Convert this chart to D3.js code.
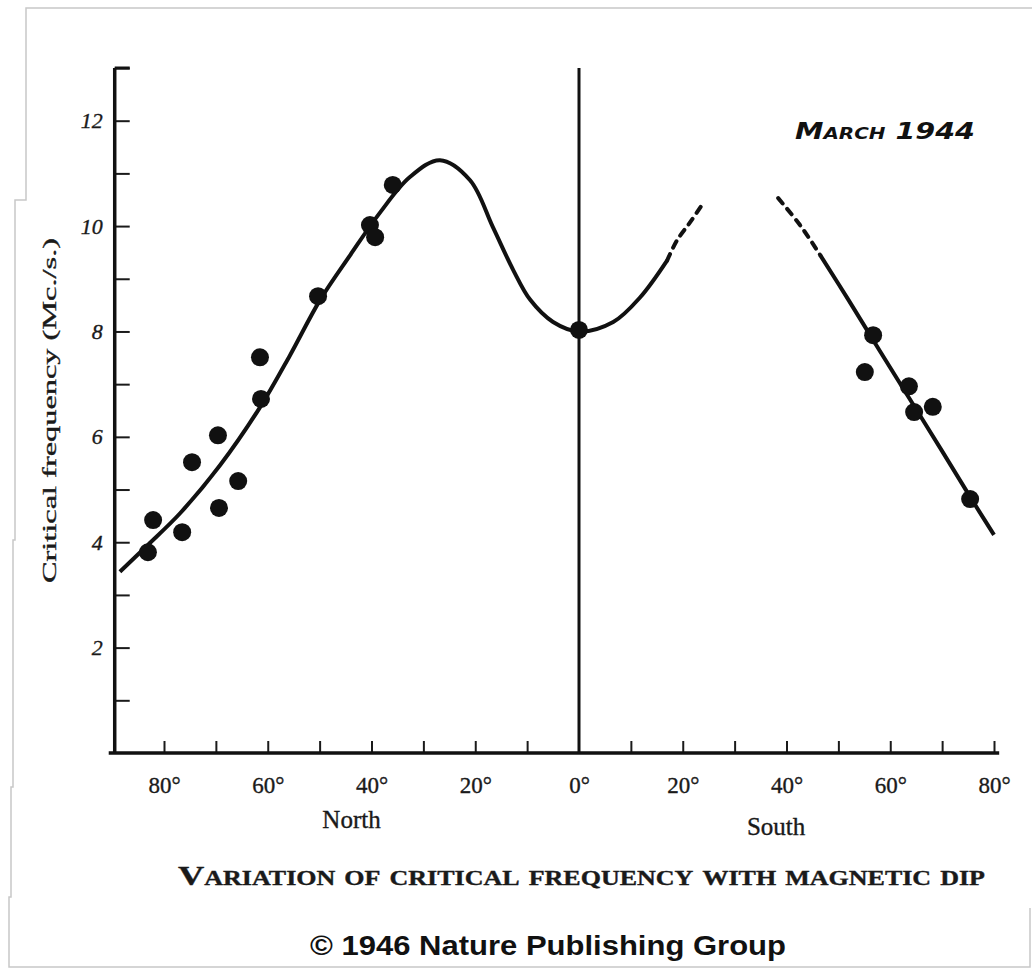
<!DOCTYPE html>
<html>
<head>
<meta charset="utf-8">
<script src="https://cdn.jsdelivr.net/npm/d3@7"></script>
<style>
  body { margin: 0; background: #fff; }
  svg { display: block; }
  .serif { font-family: "Liberation Serif", "DejaVu Serif", serif; fill: #1a1a1a; stroke: #1a1a1a; stroke-width: 0.35px; }
</style>
</head>
<body>
<svg id="chart" width="1032" height="977"></svg>
<script>
// magnetic dip in degrees, north negative / south positive
const yTicks = [1, 2, 3, 4, 5, 6, 7, 8, 9, 10, 11, 12, 13]
const yLabels = [2, 4, 6, 8, 10, 12]
const xTicks = [-80, -70, -60, -50, -40, -30, -20, -10, 10, 20, 30, 40, 50, 60, 70, 80]
const xLabels = [-80, -60, -40, -20, 0, 20, 40, 60, 80]

// observed critical frequencies (Mc./s.)
const obsDip = [-83.1, -82.1, -76.5, -74.6, -69.6, -69.4, -65.7, -61.5, -61.3, -50.3, -40.3, -39.3, -35.9, 0,
  56.7, 55.1, 63.6, 64.6, 68.2, 75.4]
const obsFreq = [3.81, 4.42, 4.19, 5.52, 6.03, 4.65, 5.16, 7.51, 6.72, 8.67, 10.02, 9.79, 10.78, 8.03,
  7.93, 7.23, 6.96, 6.47, 6.57, 4.82]

// smoothed curve, north branch through the equator
const mainDip = [-88.5, -83.1, -76.9, -69.2, -61.5, -55.7, -49.9, -44.1, -38.4, -32.6, -26.8, -21.0, -16.6, -12.7, -9.4, -5.0, 0, 6.6, 11.8, 17.0]
const mainFreq = [3.44, 3.95, 4.55, 5.46, 6.56, 7.55, 8.6, 9.45, 10.25, 10.93, 11.25, 10.87, 9.98, 9.17, 8.6, 8.18, 8.0, 8.18, 8.65, 9.35]
const tailNDip = [17.0, 18.9, 21.4, 23.9]
const tailNFreq = [9.35, 9.73, 10.07, 10.43]
// south branch
const tailSDip = [38.4, 42.6, 46.5]
const tailSFreq = [10.53, 10.02, 9.45]
const southDip = [46.5, 52, 58, 64, 70, 75.4, 80]
const southFreq = [9.45, 8.59, 7.63, 6.68, 5.73, 4.86, 4.14]

const svg = d3.select("#chart")

const x = d3.scaleLinear().domain([-80, 80]).range([164, 994])
const y = d3.scaleLinear().domain([0, 13]).range([753, 68])
const x0 = x(-89.5), x1 = x(81)

// scanned page edge
svg.append("path")
  .attr("d", "M1032,8 H26 V200 H15 V540 H13 V787 H11 V897 H9 V967 H1030 V908")
  .attr("fill", "none").attr("stroke", "#c8c8c8").attr("stroke-width", 1.5)

// y axis ticks (pointing inward)
svg.append("g").attr("transform", `translate(${x0},0)`)
  .call(d3.axisRight(y).tickValues(yTicks).tickSize(15).tickFormat(""))
  .call((g) => g.select(".domain").remove())
  .call((g) => g.selectAll("line").attr("stroke", "#1a1a1a").attr("stroke-width", 2))

svg.append("g").attr("transform", `translate(${x0 - 12},0)`)
  .call(d3.axisLeft(y).tickValues(yLabels).tickSize(0).tickPadding(0))
  .call((g) => g.select(".domain").remove())
  .call((g) => g.selectAll("text").attr("class", "serif").attr("font-size", 22).attr("font-style", "italic"))

// x axis ticks (pointing up)
svg.append("g").attr("transform", `translate(0,${y(0)})`)
  .call(d3.axisTop(x).tickValues(xTicks).tickSize(12).tickFormat(""))
  .call((g) => g.select(".domain").remove())
  .call((g) => g.selectAll("line").attr("stroke", "#1a1a1a").attr("stroke-width", 2))

svg.append("g").attr("transform", `translate(0,${y(0)})`)
  .call(d3.axisBottom(x).tickValues(xLabels).tickSize(0).tickPadding(24).tickFormat((d) => Math.abs(d) + "°"))
  .call((g) => g.select(".domain").remove())
  .call((g) => g.selectAll("text").attr("class", "serif").attr("font-size", 23))

// axis lines
svg.append("line").attr("x1", x0).attr("x2", x0).attr("y1", y(13)).attr("y2", y(0) + 1)
  .attr("stroke", "#111").attr("stroke-width", 3.5)
svg.append("line").attr("x1", x0).attr("x2", x0 + 15).attr("y1", y(13)).attr("y2", y(13))
  .attr("stroke", "#111").attr("stroke-width", 3)
svg.append("line").attr("x1", x0 - 6).attr("x2", x1).attr("y1", y(0)).attr("y2", y(0))
  .attr("stroke", "#111").attr("stroke-width", 3.5)
svg.append("line").attr("x1", x(0)).attr("x2", x(0)).attr("y1", y(13)).attr("y2", y(0))
  .attr("stroke", "#111").attr("stroke-width", 3)

// axis titles
svg.append("text").attr("class", "serif").attr("font-size", 25)
  .attr("x", (x(-80) + x(0)) / 2 - 20).attr("y", 828).attr("text-anchor", "middle").text("North")
svg.append("text").attr("class", "serif").attr("font-size", 25)
  .attr("x", x(38)).attr("y", 835).attr("text-anchor", "middle").text("South")
svg.append("text").attr("class", "serif").attr("font-size", 19)
  .attr("transform", `translate(56,${y(6.5)}) rotate(-90)`).attr("text-anchor", "middle")
  .attr("textLength", 345).attr("lengthAdjust", "spacingAndGlyphs")
  .text("Critical frequency (Mc./s.)")

// curves
const line = d3.line().x((d) => x(d[0])).y((d) => y(d[1])).curve(d3.curveCatmullRom)
const drawCurve = (dips, vals, dashed) => svg.append("path")
  .datum(d3.zip(dips, vals))
  .attr("d", line)
  .attr("fill", "none").attr("stroke", "#111").attr("stroke-width", 4)
  .attr("stroke-linecap", dashed ? "round" : "butt")
  .attr("stroke-dasharray", dashed ? "7,7" : null)

drawCurve(mainDip, mainFreq, false)
drawCurve(tailNDip, tailNFreq, true)
drawCurve(tailSDip, tailSFreq, true)
drawCurve(southDip, southFreq, false)

// observations
svg.append("g").selectAll("circle").data(d3.zip(obsDip, obsFreq)).enter().append("circle")
  .attr("cx", (d) => x(d[0])).attr("cy", (d) => y(d[1])).attr("r", 9).attr("fill", "#111")

// annotations
svg.append("text").attr("x", 795).attr("y", 139)
  .attr("font-family", "DejaVu Sans, sans-serif").attr("font-weight", "bold").attr("font-style", "italic")
  .attr("font-size", 23).attr("font-variant", "small-caps").attr("fill", "#111")
  .attr("textLength", 180).attr("lengthAdjust", "spacingAndGlyphs")
  .text("March 1944")

svg.append("text").attr("class", "serif").attr("x", 178).attr("y", 885)
  .attr("font-size", 28).attr("font-variant", "small-caps").attr("font-weight", "bold")
  .attr("textLength", 807).attr("lengthAdjust", "spacingAndGlyphs")
  .text("Variation of critical frequency with magnetic dip")

svg.append("text").attr("x", 310).attr("y", 955)
  .attr("font-family", "Liberation Sans, Arial, sans-serif").attr("font-weight", "bold")
  .attr("font-size", 28).attr("fill", "#111")
  .attr("textLength", 476).attr("lengthAdjust", "spacingAndGlyphs")
  .text("© 1946 Nature Publishing Group")
</script>
</body>
</html>
